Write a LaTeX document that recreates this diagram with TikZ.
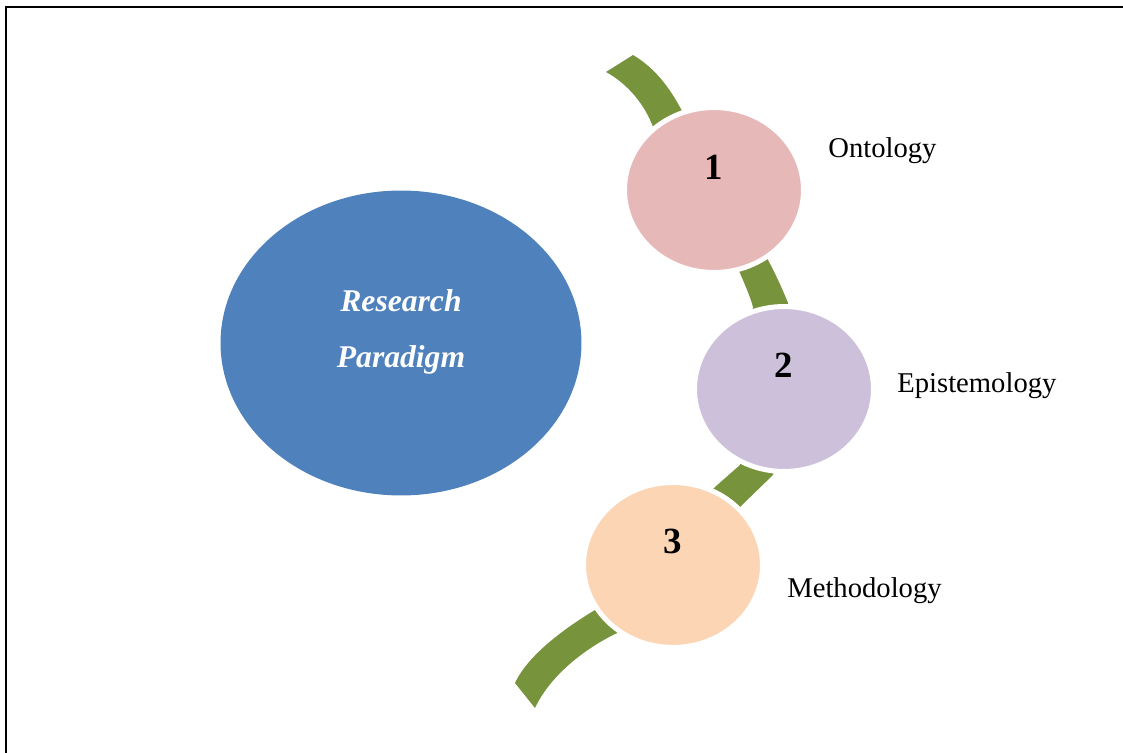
\documentclass[tikz,border=0pt]{standalone}
\usepackage{fontspec}
\setmainfont{Liberation Serif}
\usetikzlibrary{shapes.geometric,positioning}

\definecolor{paradigmblue}{HTML}{4F81BD}
\definecolor{ontopink}{HTML}{E6B8B7}
\definecolor{epililac}{HTML}{CCC0DA}
\definecolor{methpeach}{HTML}{FCD5B4}
\definecolor{bandgreen}{HTML}{77933C}

\begin{document}
\begin{tikzpicture}[x=0.02cm, y=-0.02cm,
  stage/.style={ellipse, draw=white, line width=0.1cm, minimum width=3.58cm, minimum height=3.3cm, inner sep=0pt},
  num/.style={inner sep=0pt, font=\bfseries\fontsize{21}{25}\selectfont},
  word/.style={inner sep=0pt, anchor=base, text=white, font=\bfseries\itshape\fontsize{18}{22}\selectfont},
  lbl/.style={inner sep=0pt, anchor=base west, font=\fontsize{16.3}{20}\selectfont}]
\useasboundingbox (0,0) rectangle (1123,753);
\draw[line width=0.03cm] (6,753) -- (6,7) -- (1123,7);

% green band, runs behind the three stages
\fill[bandgreen] (606,72) .. controls (628,84) and (645,105) .. (653,127) -- (740,273)
  .. controls (745,285) and (750,296) .. (753,307) -- (740,465) -- (715,487) -- (595,610)
  .. controls (565,628) and (528,655) .. (515,683) -- (535,708)
  .. controls (548,680) and (578,652) .. (617,633) -- (742,505) -- (773,475) -- (788,303)
  .. controls (782,288) and (775,273) .. (768,260) -- (682,111)
  .. controls (670,88) and (655,68) .. (633,55) -- cycle;

\node[ellipse, fill=paradigmblue, minimum width=7.22cm, minimum height=6.1cm, inner sep=0pt] (paradigm) at (401,343) {};
\node[word] (research) at (401,312) {Research};
\node[word] (paradigmword) at (401,368) {Paradigm};

\node[stage, fill=ontopink] (c1) at (714,190) {};
\node[stage, fill=epililac] (c2) at (784,389) {};
\node[stage, fill=methpeach] (c3) at (673,565) {};

\node[num] (n1) at ([yshift=0.45cm]c1.center) {1};
\node[num] (n2) at ([yshift=0.47cm]c2.center) {2};
\node[num] (n3) at ([yshift=0.47cm]c3.center) {3};

\node[lbl] (onto) at (828,158) {Ontology};
\node[lbl] (episte) at (897,393) {Epistemology};
\node[lbl] (metho) at (787,597) {Methodology};
\end{tikzpicture}
\end{document}
